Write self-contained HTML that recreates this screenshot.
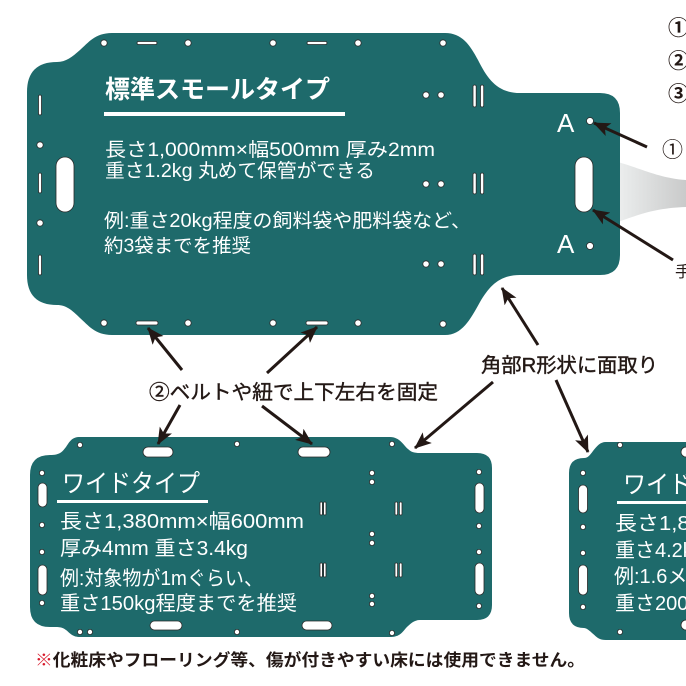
<!DOCTYPE html>
<html><head><meta charset="utf-8">
<style>
html,body{margin:0;padding:0;background:#fff;}
body{width:686px;height:686px;overflow:hidden;}
svg{display:block;}
text{font-family:"Liberation Sans","Noto Sans CJK JP",sans-serif;}
</style></head>
<body>
<svg width="686" height="686" viewBox="0 0 686 686" xmlns="http://www.w3.org/2000/svg">
<defs>
<linearGradient id="gb" x1="0" y1="0" x2="1" y2="0">
<stop offset="0" stop-color="#eceeee"/>
<stop offset="1" stop-color="#c9caca"/>
</linearGradient>
<marker id="ah" markerUnits="userSpaceOnUse" markerWidth="17" markerHeight="14" refX="16" refY="7" orient="auto" viewBox="0 0 17 14">
<path d="M0,0 L17,7 L0,14 L4,7 z" fill="#231815"/>
</marker>
</defs>

<!-- gray band -->
<path d="M618,162 C645,170 660,178 686,180 L686,207 C660,208 645,212 618,222 Z" fill="url(#gb)"/>

<!-- TOP BOARD -->
<path d="M112,33 L445,33 C462,33 470,45 478,60 C488,80 498,93 520,93 L600,93 Q620,93 620,113 L620,255 Q620,275 600,275 L520,275 C500,275 490,285 480,302 C470,320 462,335 445,335 L112,335 C95,335 88,325 80,318 C72,310 66,305 57,305 Q27,305 27,275 L27,92 Q27,62 57,62 C66,62 72,57 80,50 C88,43 95,33 112,33 Z" fill="#1e6a6b"/>

<g fill="#fff" stroke="#2a2a2a" stroke-width="0.8">
<!-- top row -->
<circle cx="104" cy="43" r="3.2"/><circle cx="188" cy="43" r="3.2"/><circle cx="273" cy="43" r="3.2"/><circle cx="358" cy="43" r="3.2"/><circle cx="443" cy="43" r="3.2"/>
<rect x="137" y="41.5" width="20" height="3" rx="1.5"/><rect x="307" y="41.5" width="20" height="3" rx="1.5"/>
<!-- bottom row -->
<circle cx="104" cy="323" r="3.2"/><circle cx="188" cy="323" r="3.2"/><circle cx="273" cy="323" r="3.2"/><circle cx="358" cy="323" r="3.2"/><circle cx="443" cy="324" r="3.2"/>
<rect x="136" y="321" width="22" height="4" rx="2"/><rect x="306" y="321" width="22" height="4" rx="2"/>
<!-- left column -->
<rect x="38.5" y="95" width="3" height="20" rx="1.5"/>
<rect x="38.5" y="173" width="3" height="20" rx="1.5"/>
<rect x="38.5" y="255" width="3" height="20" rx="1.5"/>
<circle cx="40" cy="145" r="3.2"/><circle cx="40" cy="223" r="3.2"/>
<rect x="56" y="157" width="18" height="55" rx="9"/>
<!-- right pairs -->
<circle cx="426" cy="95" r="3.2"/><circle cx="441" cy="95" r="3.2"/>
<circle cx="426" cy="184" r="3.2"/><circle cx="441" cy="184" r="3.2"/>
<circle cx="426" cy="264" r="3.2"/><circle cx="441" cy="264" r="3.2"/>
<rect x="473" y="85" width="3.2" height="22" rx="1.5"/><rect x="480.5" y="85" width="3.2" height="22" rx="1.5"/>
<rect x="473" y="173" width="3.2" height="21" rx="1.5"/><rect x="480.5" y="173" width="3.2" height="21" rx="1.5"/>
<rect x="473" y="254" width="3.2" height="21" rx="1.5"/><rect x="480.5" y="254" width="3.2" height="21" rx="1.5"/>
<!-- right lobe -->
<circle cx="590" cy="121" r="3.5"/><circle cx="590" cy="246" r="3.5"/>
<rect x="575" y="157" width="18" height="55" rx="9"/>
</g>

<g fill="#fff">
<text x="105" y="98" font-size="25" font-weight="bold" textLength="225" lengthAdjust="spacingAndGlyphs">標準スモールタイプ</text>
<rect x="104" y="112" width="241" height="4"/>
<text x="105" y="156" font-size="19" textLength="330" lengthAdjust="spacingAndGlyphs">長さ1,000mm×幅500mm 厚み2mm</text>
<text x="105" y="177" font-size="19" textLength="270" lengthAdjust="spacingAndGlyphs">重さ1.2kg 丸めて保管ができる</text>
<text x="104" y="227" font-size="19" textLength="367" lengthAdjust="spacingAndGlyphs">例:重さ20kg程度の飼料袋や肥料袋など、</text>
<text x="104" y="252" font-size="19" textLength="147" lengthAdjust="spacingAndGlyphs">約3袋までを推奨</text>
<text x="557" y="132" font-size="26">A</text>
<text x="557" y="253" font-size="26">A</text>
</g>

<!-- BOTTOM LEFT BOARD -->
<path d="M80,437 L390,437 C400,437 404,446 408,449 C411,452 414,453 420,453 L477,453 Q492,453 492,468 L492,605 Q492,620 477,620 L420,620 C414,620 410,624 406,628 C402,633 399,637 390,637 L80,637 C72,637 70,633 66,630 C62,627 60,627 50,627 Q30,627 30,607 L30,475 Q30,455 50,455 C60,455 62,452 66,447 C70,441 72,437 80,437 Z" fill="#1e6a6b"/>
<g fill="#fff" stroke="#2a2a2a" stroke-width="0.8">
<circle cx="80" cy="445" r="2.6"/><circle cx="237" cy="444" r="2.6"/><circle cx="392" cy="444" r="2.6"/>
<rect x="143" y="447" width="30" height="10" rx="5"/><rect x="298" y="447" width="32" height="10" rx="5"/>
<circle cx="42" cy="473" r="2.6"/><circle cx="42" cy="525" r="2.6"/><circle cx="42" cy="552" r="2.6"/><circle cx="42" cy="603" r="2.6"/>
<rect x="38" y="483" width="9" height="24" rx="4.5"/><rect x="38" y="565" width="9" height="30" rx="4.5"/>
<circle cx="80" cy="632" r="2.6"/><circle cx="90" cy="632" r="2.6"/><circle cx="237" cy="632" r="2.6"/><circle cx="392" cy="633" r="2.6"/>
<rect x="150" y="621" width="32" height="9" rx="4.5"/><rect x="302" y="621" width="30" height="9" rx="4.5"/>
<circle cx="372" cy="473" r="2.6"/><circle cx="372" cy="482" r="2.6"/>
<circle cx="372" cy="534" r="2.6"/><circle cx="372" cy="543" r="2.6"/>
<circle cx="372" cy="596" r="2.6"/><circle cx="372" cy="604" r="2.6"/>
<rect x="320" y="502" width="2.4" height="13" rx="1"/><rect x="323.6" y="502" width="2.4" height="13" rx="1"/>
<rect x="395" y="502" width="2.6" height="13" rx="1"/><rect x="399.4" y="502" width="2.6" height="13" rx="1"/>
<rect x="320" y="563" width="2.4" height="14" rx="1"/><rect x="323.6" y="563" width="2.4" height="14" rx="1"/>
<rect x="395" y="563" width="2.6" height="14" rx="1"/><rect x="399.4" y="563" width="2.6" height="14" rx="1"/>
<circle cx="479" cy="472" r="2.6"/><circle cx="479" cy="526" r="2.6"/><circle cx="479" cy="552" r="2.6"/><circle cx="479" cy="606" r="2.6"/>
<rect x="475" y="483" width="9" height="30" rx="4.5"/><rect x="475" y="563" width="9" height="32" rx="4.5"/>
</g>
<g fill="#fff">
<text x="62" y="492" font-size="25" textLength="138" lengthAdjust="spacingAndGlyphs">ワイドタイプ</text>
<rect x="57" y="500" width="151" height="3"/>
<text x="60" y="528" font-size="20" textLength="244" lengthAdjust="spacingAndGlyphs">長さ1,380mm×幅600mm</text>
<text x="60" y="555" font-size="20" textLength="188" lengthAdjust="spacingAndGlyphs">厚み4mm 重さ3.4kg</text>
<text x="60" y="585" font-size="20" textLength="203" lengthAdjust="spacingAndGlyphs">例:対象物が1mぐらい、</text>
<text x="60" y="610" font-size="20" textLength="237" lengthAdjust="spacingAndGlyphs">重さ150kg程度までを推奨</text>
</g>

<!-- BOTTOM RIGHT BOARD -->
<path d="M606,442 L700,442 L700,640 L606,640 C598,640 596,636 592,633 C589,630 586,628 584,628 Q569,628 569,613 L569,473 Q569,458 584,458 C588,458 590,455 593,451 C597,446 600,442 606,442 Z" fill="#1e6a6b"/>
<g fill="#fff" stroke="#2a2a2a" stroke-width="0.8">
<circle cx="620" cy="445" r="2.6"/><circle cx="620" cy="632" r="2.6"/>
<rect x="681" y="447" width="30" height="10" rx="5"/><rect x="681" y="620" width="30" height="10" rx="5"/>
<circle cx="583" cy="473" r="2.6"/><circle cx="583" cy="527" r="2.6"/><circle cx="583" cy="553" r="2.6"/><circle cx="583" cy="607" r="2.6"/>
<rect x="578.5" y="485" width="9" height="28" rx="4.5"/><rect x="578.5" y="565" width="9" height="30" rx="4.5"/>
</g>
<g fill="#fff">
<text x="623" y="493" font-size="25" textLength="138" lengthAdjust="spacingAndGlyphs">ワイドタイプ</text>
<rect x="617" y="501" width="80" height="3"/>
<text x="615" y="530" font-size="20" textLength="244" lengthAdjust="spacingAndGlyphs">長さ1,800mm×幅600mm</text>
<text x="615" y="557" font-size="20">重さ4.2kg</text>
<text x="614" y="583" font-size="20">例:1.6メートル</text>
<text x="615" y="610" font-size="20">重さ200kg</text>
</g>

<!-- ARROWS -->
<g stroke="#231815" stroke-width="3" fill="none" marker-end="url(#ah)">
<line x1="647" y1="147" x2="594" y2="123"/>
<line x1="673" y1="260" x2="593" y2="210"/>
<line x1="538" y1="345" x2="502" y2="288"/>
<line x1="182" y1="370" x2="148" y2="328"/>
<line x1="267" y1="373" x2="317" y2="327"/>
<line x1="180" y1="405" x2="158" y2="444"/>
<line x1="262" y1="406" x2="312" y2="444"/>
<line x1="493" y1="382" x2="415" y2="448"/>
<line x1="556" y1="380" x2="588" y2="452"/>
</g>

<!-- LABELS -->
<g fill="#231815" stroke="#231815" stroke-width="0.4">
<text x="149" y="399" font-size="20" textLength="289" lengthAdjust="spacingAndGlyphs">②ベルトや紐で上下左右を固定</text>
<text x="481" y="372" font-size="20" textLength="177" lengthAdjust="spacingAndGlyphs">角部R形状に面取り</text>
</g>

<g fill="#231815">
<text x="668" y="35" font-size="21" font-weight="bold">①</text>
<text x="668" y="68" font-size="21" font-weight="bold">②</text>
<text x="668" y="101" font-size="21" font-weight="bold">③</text>
<text x="662" y="157" font-size="21">①</text>
<text x="675" y="277" font-size="16">手</text>
</g>

<text x="35" y="666" font-size="17" font-weight="bold" fill="#231815" textLength="550" lengthAdjust="spacingAndGlyphs"><tspan fill="#d7182a">※</tspan>化粧床やフローリング等、傷が付きやすい床には使用できません。</text>
</svg>
</body></html>
